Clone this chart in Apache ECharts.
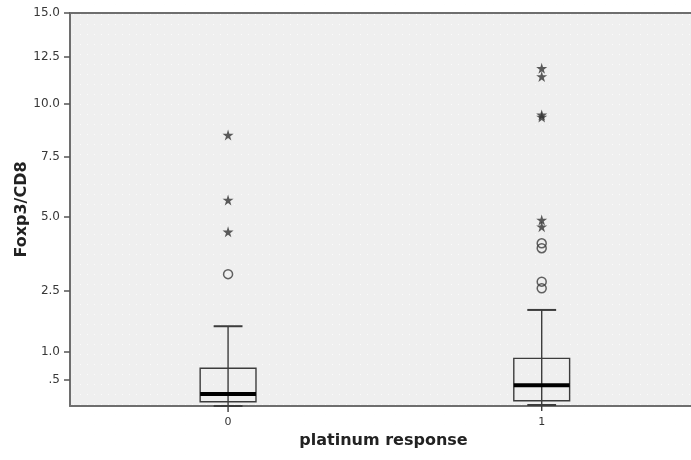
<!DOCTYPE html>
<html>
<head>
<meta charset="utf-8">
<script src="https://cdn.jsdelivr.net/npm/echarts@6/dist/echarts.min.js"></script>
<style>
  html, body { margin: 0; padding: 0; background: #fff; }
  #chart { width: 691px; height: 460px; }
</style>
</head>
<body>
<div id="chart"></div>
<script>
// Foxp3/CD8 ratio by platinum response (box plot, power-scaled axis)
var categories = ['0', '1'];

// five-number summaries: [lower whisker, Q1, median, Q3, upper whisker]
var boxStats = [
  [0.17, 0.214, 0.304, 0.688, 1.56],
  [0.18, 0.225, 0.42, 0.869, 1.97]
];

// outliers beyond 1.5 IQR (circles) and extremes beyond 3 IQR (stars)
var outlierGroup = [0, 1, 1, 1, 1];
var outlierValue = [3.0, 4.02, 3.85, 2.77, 2.57];
var extremeGroup = [0, 0, 0, 1, 1, 1, 1, 1, 1];
var extremeValue = [8.49, 5.65, 4.43, 11.87, 11.43, 9.46, 9.36, 4.87, 4.62];

// y-axis ticks and their labels
var tickValues = [0.5, 1, 2.5, 5, 7.5, 10, 12.5, 15];
var tickLabels = ['.5', '1.0', '2.5', '5.0', '7.5', '10.0', '12.5', '15.0'];
var axisMin = 0.17, axisMax = 15;

// the axis is drawn on a power scale
var POWER = 0.6;
function tf(v) { return Math.pow(v, POWER); }

var boxData = boxStats.map(function (s, i) {
  return [i].concat(s.map(tf));
});
var outlierData = outlierValue.map(function (v, i) { return [outlierGroup[i], tf(v)]; });
var extremeData = extremeValue.map(function (v, i) { return [extremeGroup[i], tf(v)]; });
var tickPos = tickValues.map(tf);
var groupPos = categories.map(function (c, i) { return i; });

// small five-pointed star used for extreme values
var starPath = 'path://M50,0 L61,35 L98,35 L68,57 L79,91 L50,70 L21,91 L32,57 L2,35 L39,35 Z';

// faint dotted backdrop of the plotting area
function makeDots() {
  var c = document.createElement('canvas');
  c.width = 7; c.height = 10;
  var g = c.getContext('2d');
  g.fillStyle = '#efefef';
  g.fillRect(0, 0, 7, 10);
  g.fillStyle = '#fbfbfb';
  g.fillRect(3, 4, 1, 1);
  return c;
}

var LINE = '#3c3c3c';
var FRAME = '#6e6e6e';

function renderBox(params, api) {
  var x = api.value(0);
  var low = api.coord([x, api.value(1)]);
  var q1 = api.coord([x, api.value(2)]);
  var med = api.coord([x, api.value(3)]);
  var q3 = api.coord([x, api.value(4)]);
  var high = api.coord([x, api.value(5)]);
  var unit = api.size([1, 0])[0];
  var half = unit * 0.089;
  var cap = unit * 0.046;
  var cx = low[0];
  var thin = { stroke: LINE, lineWidth: 1.4, fill: null };
  return {
    type: 'group',
    children: [
      { type: 'line', shape: { x1: cx, y1: high[1], x2: cx, y2: low[1] + 6 }, style: thin },
      { type: 'line', shape: { x1: cx - cap, y1: high[1], x2: cx + cap, y2: high[1] }, style: { stroke: LINE, lineWidth: 2 } },
      { type: 'line', shape: { x1: cx - cap, y1: low[1], x2: cx + cap, y2: low[1] }, style: { stroke: LINE, lineWidth: 2 } },
      { type: 'rect', shape: { x: cx - half, y: q3[1], width: 2 * half, height: q1[1] - q3[1] }, style: thin },
      { type: 'line', shape: { x1: cx - half, y1: med[1], x2: cx + half, y2: med[1] }, style: { stroke: '#000', lineWidth: 4 } }
    ]
  };
}

var chart = echarts.init(document.getElementById('chart'), null, { renderer: 'canvas' });
chart.setOption({
  animation: false,
  backgroundColor: '#ffffff',
  grid: {
    left: 70, right: 0, top: 13, bottom: 54,
    show: true,
    backgroundColor: { image: makeDots(), repeat: 'repeat' },
    borderWidth: 0
  },
  xAxis: [
    {
      type: 'value',
      min: -0.504,
      max: 1.476,
      name: 'platinum response',
      nameLocation: 'middle',
      nameGap: 27,
      nameMoveOverlap: false,
      nameTextStyle: { fontFamily: 'DejaVu Sans', fontWeight: 'bold', fontSize: 16, color: '#222', padding: [0, 0, 0, 6] },
      axisLine: { show: true, onZero: false, lineStyle: { color: FRAME, width: 2 } },
      axisTick: { show: false },
      axisLabel: {
        fontFamily: 'DejaVu Sans', fontSize: 11, color: '#333', margin: 11,
        customValues: groupPos,
        formatter: function (v) { return categories[Math.round(v)]; }
      },
      splitLine: { show: false }
    },
    {
      // top edge of the frame
      type: 'value',
      position: 'top',
      min: -0.504,
      max: 1.476,
      axisLine: { show: true, onZero: false, lineStyle: { color: FRAME, width: 2 } },
      axisTick: { show: false },
      axisLabel: { show: false },
      splitLine: { show: false }
    }
  ],
  yAxis: {
    type: 'value',
    min: tf(axisMin),
    max: tf(axisMax),
    name: 'Foxp3/CD8',
    nameLocation: 'middle',
    nameGap: 40,
    nameMoveOverlap: false,
    nameRotate: 90,
    nameTextStyle: { fontFamily: 'DejaVu Sans', fontWeight: 'bold', fontSize: 16, color: '#222' },
    axisLine: { show: true, onZero: false, lineStyle: { color: FRAME, width: 2 } },
    axisTick: { show: true, length: 6, customValues: tickPos, lineStyle: { color: '#555', width: 1.5 } },
    axisLabel: {
      fontFamily: 'DejaVu Sans', fontSize: 12, color: '#383838', margin: 10,
      customValues: tickPos,
      formatter: function (v) {
        for (var i = 0; i < tickPos.length; i++) {
          if (Math.abs(tickPos[i] - v) < 1e-6) return tickLabels[i];
        }
        return '';
      }
    },
    splitLine: { show: false }
  },
  series: [
    {
      type: 'custom',
      renderItem: renderBox,
      data: boxData,
      encode: { x: 0, y: [1, 2, 3, 4, 5] },
      clip: false,
      z: 3
    },
    {
      type: 'scatter',
      data: outlierData,
      symbol: 'circle',
      symbolSize: 9,
      itemStyle: { color: 'rgba(0,0,0,0)', borderColor: LINE, borderWidth: 1.5 },
      z: 4
    },
    {
      type: 'scatter',
      data: extremeData,
      symbol: starPath,
      symbolSize: 11,
      itemStyle: { color: '#333' },
      z: 4
    }
  ]
});
</script>
</body>
</html>
